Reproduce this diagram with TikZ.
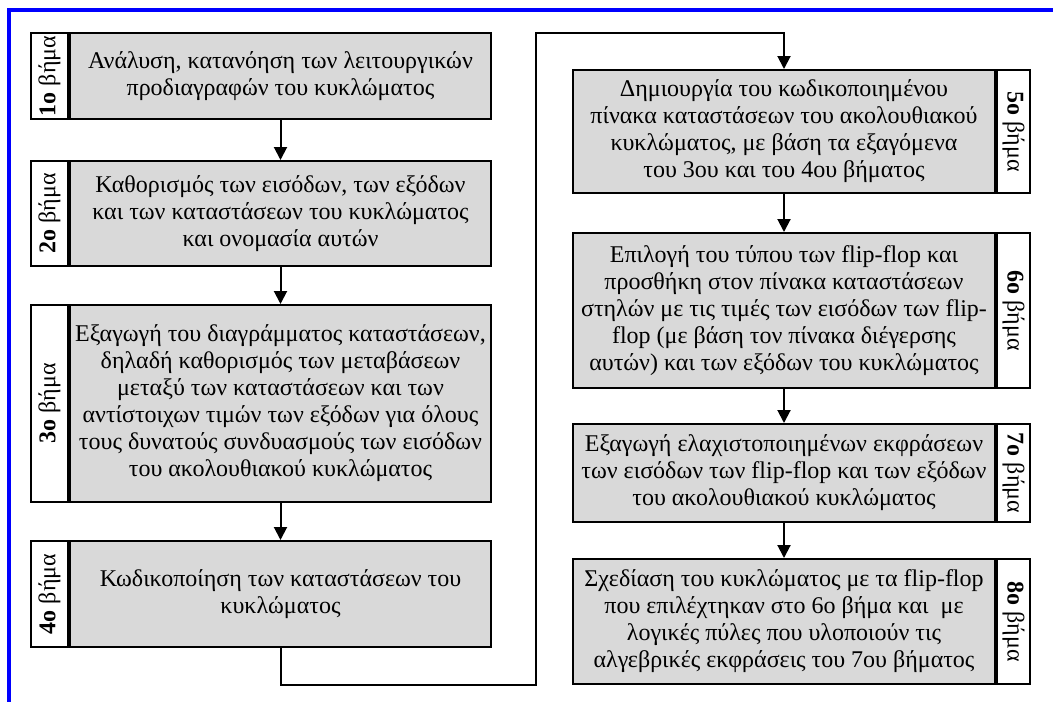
\documentclass[tikz,border=0pt]{standalone}
\usepackage{fontspec}
\setmainfont{Liberation Serif}
\usetikzlibrary{arrows.meta}

\begin{document}
\begin{tikzpicture}[x=1pt,y=-1pt,
    every node/.style={font=\fontsize{24}{27}\selectfont},
    stepBox/.style={draw,line width=2pt,fill=black!15,align=center,inner xsep=2pt,inner ysep=0pt},
    stepTag/.style={draw,line width=2pt,fill=white,inner sep=0pt},
    flow/.style={line width=2pt,-{Triangle[length=13pt,width=13pt]}}]

    \useasboundingbox (0,0) rectangle (1053,702);
    \draw[blue,line width=3.5pt] (9,702) -- (9,10) -- (1053,10);

    % left column: steps 1-4
    \node[stepBox,minimum width=421pt,minimum height=86pt] (box1) at (280.5,76)
        {Ανάλυση, κατανόηση των λειτουργικών\\προδιαγραφών του κυκλώματος};
    \node[stepBox,minimum width=421pt,minimum height=105pt] (box2) at (280.5,213.5)
        {Καθορισμός των εισόδων, των εξόδων\\και των καταστάσεων του κυκλώματος\\και ονομασία αυτών};
    \node[stepBox,minimum width=421pt,minimum height=197pt] (box3) at (280.5,403.5)
        {Εξαγωγή του διαγράμματος καταστάσεων,\\δηλαδή καθορισμός των μεταβάσεων\\μεταξύ των καταστάσεων και των\\αντίστοιχων τιμών των εξόδων για όλους\\τους δυνατούς συνδυασμούς των εισόδων\\του ακολουθιακού κυκλώματος};
    \node[stepBox,minimum width=421pt,minimum height=106pt] (box4) at (280.5,594)
        {Κωδικοποίηση των καταστάσεων του\\κυκλώματος};

    \node[stepTag,rotate=90,minimum width=86pt,minimum height=37pt,anchor=south] (tag1) at (box1.west) {\textbf{1ο} βήμα};
    \node[stepTag,rotate=90,minimum width=105pt,minimum height=37pt,anchor=south] (tag2) at (box2.west) {\textbf{2ο} βήμα};
    \node[stepTag,rotate=90,minimum width=197pt,minimum height=37pt,anchor=south] (tag3) at (box3.west) {\textbf{3ο} βήμα};
    \node[stepTag,rotate=90,minimum width=106pt,minimum height=37pt,anchor=south] (tag4) at (box4.west) {\textbf{4ο} βήμα};

    % right column: steps 5-8
    \node[stepBox,minimum width=422pt,minimum height=123pt] (box5) at (784,131.5)
        {Δημιουργία του κωδικοποιημένου\\πίνακα καταστάσεων του ακολουθιακού\\κυκλώματος, με βάση τα εξαγόμενα\\του 3ου και του 4ου βήματος};
    \node[stepBox,minimum width=422pt,minimum height=155pt] (box6) at (784,310.5)
        {Επιλογή του τύπου των flip-flop και\\προσθήκη στον πίνακα καταστάσεων\\στηλών με τις τιμές των εισόδων των flip-\\flop (με βάση τον πίνακα διέγερσης\\αυτών) και των εξόδων του κυκλώματος};
    \node[stepBox,minimum width=422pt,minimum height=98pt] (box7) at (784,473)
        {Εξαγωγή ελαχιστοποιημένων εκφράσεων\\των εισόδων των flip-flop και των εξόδων\\του ακολουθιακού κυκλώματος};
    \node[stepBox,minimum width=422pt,minimum height=125pt] (box8) at (784,621.5)
        {Σχεδίαση του κυκλώματος με τα flip-flop\\που επιλέχτηκαν στο 6ο βήμα και \ με\\λογικές πύλες που υλοποιούν τις\\αλγεβρικές εκφράσεις του 7ου βήματος};

    \node[stepTag,rotate=-90,minimum width=123pt,minimum height=33pt,anchor=south] (tag5) at (box5.east) {\textbf{5ο} βήμα};
    \node[stepTag,rotate=-90,minimum width=155pt,minimum height=33pt,anchor=south] (tag6) at (box6.east) {\textbf{6ο} βήμα};
    \node[stepTag,rotate=-90,minimum width=98pt,minimum height=33pt,anchor=south] (tag7) at (box7.east) {\textbf{7ο} βήμα};
    \node[stepTag,rotate=-90,minimum width=125pt,minimum height=33pt,anchor=south] (tag8) at (box8.east) {\textbf{8ο} βήμα};

    % arrows
    \draw[flow] (box1.south) -- (box2.north);
    \draw[flow] (box2.south) -- (box3.north);
    \draw[flow] (box3.south) -- (box4.north);
    \coordinate (loopLow) at (536,685);
    \coordinate (loopTop) at (784,33);
    \draw[flow] (box4.south) |- (loopLow) |- (loopTop) -- (box5.north);
    \draw[flow] (box5.south) -- (box6.north);
    \draw[flow] (box6.south) -- (box7.north);
    \draw[flow] (box7.south) -- (box8.north);
\end{tikzpicture}
\end{document}
